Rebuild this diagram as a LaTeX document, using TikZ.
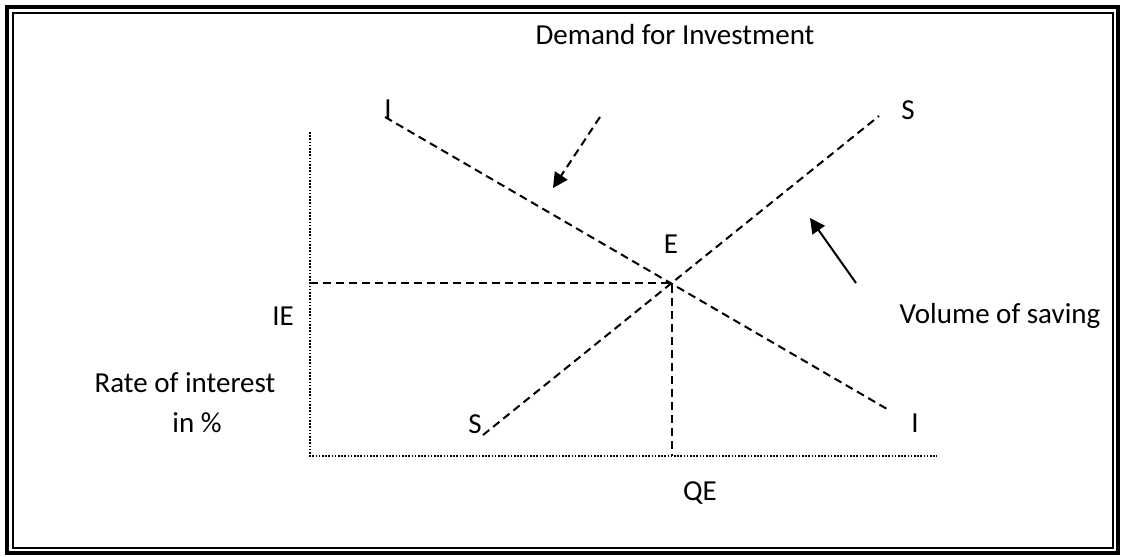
\documentclass[tikz,border=0pt]{standalone}
\usepackage{fontspec}
\setmainfont{Carlito}
\usetikzlibrary{arrows.meta}
\begin{document}
\begin{tikzpicture}[x=0.5pt, y=-0.5pt,
  every node/.style={font=\fontsize{14.5}{17}\selectfont, inner sep=0pt, anchor=base},
  curveline/.style={line width=1pt, dash pattern=on 4pt off 2.5pt},
  axisline/.style={line width=0.8pt, dash pattern=on 0.8pt off 0.8pt},
  tip/.style={-{Triangle[length=7.5pt, width=7.5pt]}}]

  \useasboundingbox (0,0) rectangle (1125,557);

  % --- DOUBLE FRAME ---
  \draw[line width=1.6pt] (7,7) rectangle (1118,553);
  \draw[line width=1pt] (12.5,12.5) rectangle (1112.5,547.5);

  % --- AXES ---
  \coordinate (O) at (310,456);
  \coordinate (ytop) at (310,132);
  \coordinate (xend) at (937,456);
  \draw[axisline] (ytop) -- (O) -- (xend);

  % --- INVESTMENT (I-I) AND SAVING (S-S) CURVES ---
  \coordinate (itop) at (385,117);
  \coordinate (ibot) at (887,409);
  \coordinate (sbot) at (483,435);
  \coordinate (stop) at (879,116);
  \draw[curveline] (itop) -- (ibot);
  \draw[curveline] (sbot) -- (stop);

  % Equilibrium point and its projections
  \coordinate (E) at (672,283);
  \coordinate (ie) at (310,283);
  \coordinate (qe) at (672,456);
  \draw[curveline] (ie) -- (E) -- (qe);

  % --- POINTER ARROWS ---
  \coordinate (dstart) at (600,117);
  \coordinate (dend) at (553,188);
  \draw[curveline, tip] (dstart) -- (dend);
  \coordinate (vstart) at (856,283);
  \coordinate (vend) at (810,218);
  \draw[line width=1pt, tip] (vstart) -- (vend);

  % --- LABELS ---
  \node (title) at (675,44) {Demand for Investment};
  \node (ilabtop) at (388,118) {I};
  \node (slabtop) at (908,119) {S};
  \node (elab) at (671,253) {E};
  \node (ielab) at (283,325) {IE};
  \node (saving) at (1000,323) {Volume of saving};
  \node (rate) at (185,392) {Rate of interest};
  \node (rateunit) at (197,432) {in \%};
  \node (slabbot) at (475,433) {S};
  \node (ilabbot) at (915,432) {I};
  \node (qelab) at (700,500) {QE};

\end{tikzpicture}
\end{document}
